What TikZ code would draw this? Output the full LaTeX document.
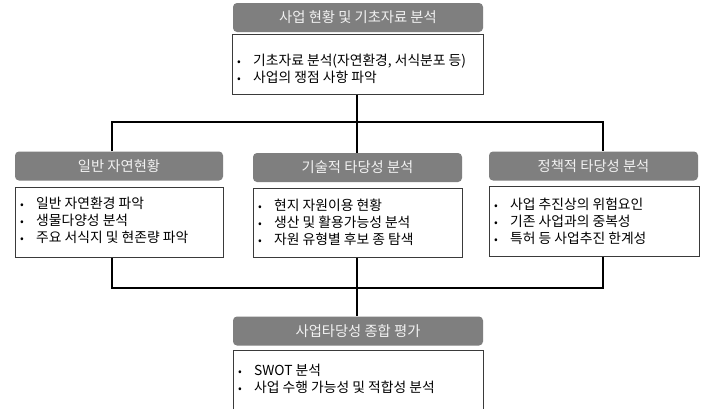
\documentclass[tikz,border=0pt]{standalone}
\usepackage{fontspec}
\setmainfont{Noto Sans CJK KR}
\definecolor{hdrgray}{HTML}{7F7F7F}
\definecolor{boxline}{HTML}{3A3A3A}
\newcommand{\blt}{\makebox[16pt][l]{\fontsize{11}{11}\selectfont•}}
\begin{document}
\begin{tikzpicture}[x=1pt,y=-1pt,
  hdr/.style={rectangle, rounded corners=4pt, fill=hdrgray, text=white!95!black, inner sep=0pt, minimum height=29pt, font=\fontsize{14.3}{16}\selectfont},
  cbox/.style={draw=boxline, line width=0.8pt, inner sep=0pt, anchor=north west},
  ctext/.style={anchor=west, align=left, inner sep=0pt, font=\fontsize{13.8}{17}\selectfont},
  conn/.style={line width=1.6pt, black}]
\useasboundingbox[fill=white] (0,0) rectangle (726,415);
% headers
\node[hdr, minimum width=250pt] (h0) at (358,17.5) {사업 현황 및 기초자료 분석};
\node[hdr, minimum width=208pt] (hl) at (119,166) {일반 자연현황};
\node[hdr, minimum width=209pt] (hm) at (357.5,167.5) {기술적 타당성 분석};
\node[hdr, minimum width=209pt] (hr) at (593.5,166) {정책적 타당성 분석};
\node[hdr, minimum width=250pt] (hb) at (358,331) {사업타당성 종합 평가};
% content boxes
\node[cbox, minimum width=251pt, minimum height=60pt] (b0) at (232,34) {};
\node[cbox, minimum width=208pt, minimum height=70pt] (bl) at (15,187) {};
\node[cbox, minimum width=209pt, minimum height=69pt] (bm) at (253,188) {};
\node[cbox, minimum width=210pt, minimum height=70pt] (br) at (489,186) {};
\draw[draw=boxline, line width=0.8pt] (233,409) -- (233,350) -- (483,350) -- (483,409);
% texts
\node[ctext] (t0) at (237,68.5) {\blt 기초자료 분석(자연환경, 서식분포 등)\\ \blt 사업의 쟁점 사항 파악};
\node[ctext] (tl) at (20,220) {\blt 일반 자연환경 파악\\ \blt 생물다양성 분석\\ \blt 주요 서식지 및 현존량 파악};
\node[ctext] (tm) at (258,222) {\blt 현지 자원이용 현황\\ \blt 생산 및 활용가능성 분석\\ \blt 자원 유형별 후보 종 탐색};
\node[ctext] (tr) at (494,221) {\blt 사업 추진상의 위험요인\\ \blt 기존 사업과의 중복성\\ \blt 특허 등 사업추진 한계성};
\node[ctext] (tb) at (238,379) {\blt SWOT 분석\\ \blt 사업 수행 가능성 및 적합성 분석};
% connectors
\coordinate (jl) at (112,122);
\coordinate (jt) at (357,122);
\coordinate (jr) at (603,122);
\coordinate (kl) at (112,288);
\coordinate (km) at (357,288);
\coordinate (kr) at (603,288);
\draw[conn] (jt |- b0.south) -- (jt |- hm.north);
\draw[conn] (jl |- hl.north) -- (jl) -- (jr) -- (jr |- hr.north);
\draw[conn] (kl |- bl.south) -- (kl) -- (kr) -- (kr |- br.south);
\draw[conn] (km |- bm.south) -- (km |- hb.north);
\end{tikzpicture}
\end{document}
